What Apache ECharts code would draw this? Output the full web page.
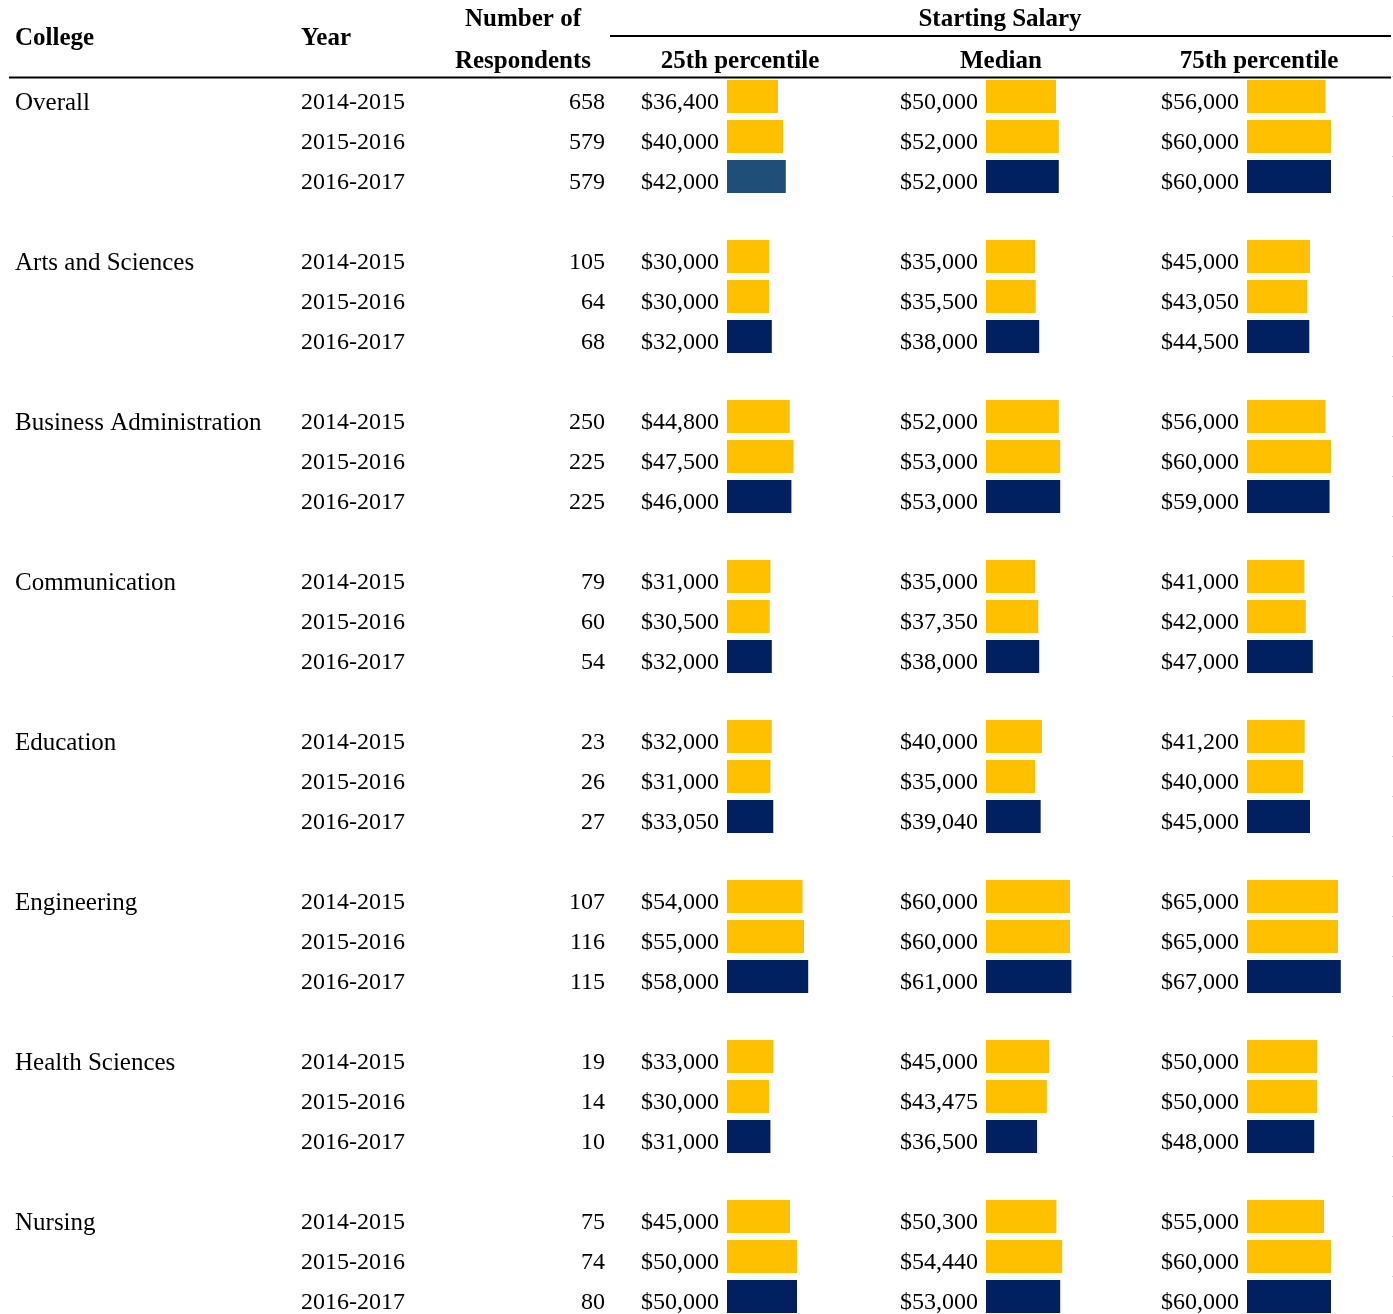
<!DOCTYPE html>
<html>
<head>
<meta charset="utf-8">
<script src="https://cdn.jsdelivr.net/npm/echarts@6/dist/echarts.min.js"></script>
<style>
  html, body { margin: 0; padding: 0; background: #fff; }
  #chart { width: 1393px; height: 1314px; }
</style>
</head>
<body>
<div id="chart"></div>
<script>
const colleges = ['Overall', 'Arts and Sciences', 'Business Administration', 'Communication',
  'Education', 'Engineering', 'Health Sciences', 'Nursing'];
const years = ['2014-2015', '2015-2016', '2016-2017'];
const respondents = [
  [658, 579, 579], [105, 64, 68], [250, 225, 225], [79, 60, 54],
  [23, 26, 27], [107, 116, 115], [19, 14, 10], [75, 74, 80]
];
const p25 = [
  [36400, 40000, 42000], [30000, 30000, 32000], [44800, 47500, 46000], [31000, 30500, 32000],
  [32000, 31000, 33050], [54000, 55000, 58000], [33000, 30000, 31000], [45000, 50000, 50000]
];
const median = [
  [50000, 52000, 52000], [35000, 35500, 38000], [52000, 53000, 53000], [35000, 37350, 38000],
  [40000, 35000, 39040], [60000, 60000, 61000], [45000, 43475, 36500], [50300, 54440, 53000]
];
const p75 = [
  [56000, 60000, 60000], [45000, 43050, 44500], [56000, 60000, 59000], [41000, 42000, 47000],
  [41200, 40000, 45000], [65000, 65000, 67000], [50000, 50000, 48000], [55000, 60000, 60000]
];
const columnTitles = ['25th percentile', 'Median', '75th percentile'];

const YELLOW = '#FFC000';
const NAVY = '#002060';
const SELECTED = '#1F4E79'; // the highlighted cell (Overall, 25th, 2016-2017)
const FONT = 'Liberation Serif';
const TOP = 76.5;
const TEXT_DROP = 6.5; // text sits a little lower than the bar centre

// flatten into table rows, with a blank spacer row between colleges
const rows = [];
colleges.forEach(function (c, i) {
  years.forEach(function (y, j) {
    rows.push({ key: i + '-' + j, college: j === 0 ? c : '', year: y, resp: respondents[i][j], ci: i, yi: j });
  });
  if (i < colleges.length - 1) rows.push({ key: 'gap' + i, college: '', year: '', resp: '', ci: -1, yi: -1 });
});
const keys = rows.map(function (r) { return r.key; });

function seriesData(values, col) {
  return rows.map(function (r) {
    if (r.ci < 0) return '-';
    let color = r.yi === 2 ? NAVY : YELLOW;
    if (col === 0 && r.ci === 0 && r.yi === 2) color = SELECTED;
    return { value: values[r.ci][r.yi], itemStyle: { color: color } };
  });
}

const gridLefts = [727, 986, 1247];
const grids = gridLefts.map(function (l) {
  return { left: l, width: 140, top: TOP, height: rows.length * 40, outerBoundsMode: 'none', containLabel: false };
});
// grid 3 only carries the text columns, nudged down a bit
grids.push({ left: 727, width: 140, top: TOP + TEXT_DROP, height: rows.length * 40, outerBoundsMode: 'none', containLabel: false });

const xAxes = grids.map(function (gr, g) {
  return { type: 'value', gridIndex: g, min: 0, max: 100000, show: false };
});

function textAxis(field, margin, align) {
  return {
    type: 'category', gridIndex: 3, data: keys, inverse: true, position: 'left', offset: 0,
    axisLine: { show: false }, axisTick: { show: false }, splitLine: { show: false },
    axisLabel: {
      interval: 0, margin: margin, align: align, color: '#000', fontFamily: FONT,
      fontSize: field === 'college' ? 25 : 24,
      formatter: function (v, idx) { return String(rows[idx][field]); }
    }
  };
}

const yAxes = gridLefts.map(function (l, g) {
  return {
    type: 'category', gridIndex: g, data: keys, inverse: true,
    axisLine: { show: false }, axisTick: { show: false }, axisLabel: { show: false }
  };
});
yAxes.push(textAxis('college', 727 - 15, 'left'));
yAxes.push(textAxis('year', 727 - 301, 'left'));
yAxes.push(textAxis('resp', 727 - 605, 'right'));
// faint tick marks along the right edge
yAxes.push({
  type: 'category', gridIndex: 2, data: keys, inverse: true, position: 'right', offset: 5,
  axisLine: { show: false }, axisLabel: { show: false },
  axisTick: { show: true, length: 2, inside: false, lineStyle: { color: '#c8c8c8', width: 1 } }
});

const series = [p25, median, p75].map(function (vals, g) {
  return {
    type: 'bar', name: columnTitles[g], xAxisIndex: g, yAxisIndex: g,
    barWidth: 33, data: seriesData(vals, g), animation: false,
    label: {
      show: true, position: 'left', distance: 8, offset: [0, TEXT_DROP],
      color: '#000', fontFamily: FONT, fontSize: 24,
      formatter: function (p) { return '$' + Number(p.value).toLocaleString('en-US'); }
    }
  };
});

function headText(text, x, y, align) {
  return {
    type: 'text', x: x, y: y,
    style: { text: text, fill: '#000', font: 'bold 25px "' + FONT + '"', align: align, verticalAlign: 'middle' }
  };
}

const myChart = echarts.init(document.getElementById('chart'));
const option = {
  backgroundColor: '#fff',
  animation: false,
  grid: grids,
  xAxis: xAxes,
  yAxis: yAxes,
  series: series,
  graphic: [
    headText('College', 15, 39, 'left'),
    headText('Year', 301, 39, 'left'),
    headText('Number of', 523, 20, 'center'),
    headText('Respondents', 523, 62, 'center'),
    headText('Starting Salary', 1000, 20, 'center'),
    headText(columnTitles[0], 740, 62, 'center'),
    headText(columnTitles[1], 1001, 62, 'center'),
    headText(columnTitles[2], 1259, 62, 'center'),
    { type: 'line', shape: { x1: 610, y1: 36, x2: 1391, y2: 36 }, style: { stroke: '#000', lineWidth: 2 } },
    { type: 'line', shape: { x1: 9, y1: 77.5, x2: 1391, y2: 77.5 }, style: { stroke: '#000', lineWidth: 2 } }
  ]
};
option && myChart.setOption(option);

window.addEventListener('resize', function () {
  myChart.resize();
});
</script>
</body>
</html>
